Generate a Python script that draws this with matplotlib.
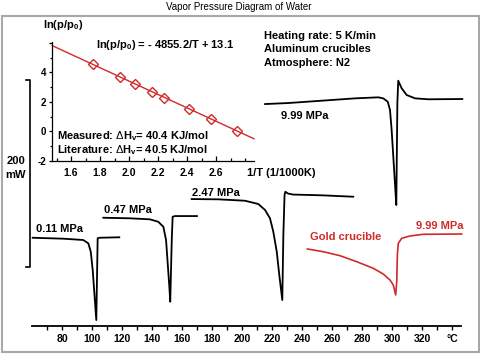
import matplotlib
matplotlib.use('Agg')
import matplotlib.pyplot as plt
from matplotlib.patches import Rectangle

plt.rcParams['font.family'] = ['Liberation Sans', 'DejaVu Sans']
plt.rcParams['mathtext.fontset'] = 'custom'
plt.rcParams['mathtext.rm'] = 'Liberation Sans'
plt.rcParams['mathtext.bf'] = 'Liberation Sans:bold'

# DSC curves: temperature (degC) vs heat flow (mW, arbitrary offset)
t_011 = [60.5, 80.9, 94.2, 97.6, 99.2, 100.5, 101.6, 102.9, 103.4, 103.8, 104.9, 118.2]
q_011 = [31.3, 30.3, 28.9, 25.3, 16.4, -3.2, -27.8, -56.7, -8.5, 30.7, 31.3, 31.8]

t_047 = [107.6, 125.4, 138.7, 144.2, 147.6, 149.4, 150.5, 151.6, 152.2, 153.2, 153.8, 155.4, 170.0]
q_047 = [52.7, 52.1, 51.0, 48.4, 43.1, 28.9, 4.0, -21.1, -37.1, 28.9, 53.8, 54.5, 54.5]

t_247 = [166.5, 184.2, 202.0, 210.9, 215.4, 218.7, 220.9, 223.2, 224.9, 226.9,
         227.6, 228.4, 228.9, 230.7, 234.0, 253.2, 274.2]
q_247 = [72.7, 72.4, 70.9, 67.4, 61.0, 52.1, 37.8, 16.4, -8.6, -35.3,
         34.2, 77.0, 80.5, 78.6, 77.5, 76.7, 75.2]

t_999 = [215.4, 230.9, 253.2, 275.4, 290.9, 294.2, 297.2, 298.7, 299.8, 300.9,
         302.0, 302.9, 303.6, 304.2, 306.5, 309.8, 315.4, 324.2, 346.9]
q_999 = [174.3, 175.4, 177.9, 180.4, 181.5, 180.4, 176.8, 167.9, 146.5, 118.0,
         89.5, 66.3, 175.1, 199.3, 191.1, 184.0, 180.4, 179.4, 179.7]

t_gold = [243.6, 254.2, 265.4, 276.5, 287.6, 294.2, 298.7, 300.9, 302.5, 303.2,
          303.6, 304.2, 306.5, 312.0, 320.9, 346.5]
q_gold = [19.3, 16.4, 12.1, 5.7, -1.4, -7.5, -13.9, -19.3, -29.9, -15.7,
          12.8, 25.3, 30.7, 33.2, 35.0, 35.3]

scale_bar_mw = 200
t_ticks = [80, 100, 120, 140, 160, 180, 200, 220, 240, 260, 280, 300, 320, 340]
t_labels = ['80', '100', '120', '140', '160', '180', '200', '220', '240', '260',
            '280', '300', '320', '°C']
t_minor = [70, 90, 110, 130, 150, 170, 190, 210, 230, 250, 270, 290, 310, 330]

# inset: ln(p/p0) vs 1/T
inv_t = [1.754, 1.938, 2.039, 2.159, 2.243, 2.414, 2.563, 2.747]
ln_p = [4.57, 3.66, 3.20, 2.67, 2.26, 1.51, 0.85, 0.05]
fit_x = [1.471, 2.862]
fit_y = [5.82, -0.51]
inv_ticks = [1.6, 1.8, 2.0, 2.2, 2.4, 2.6]
inv_minor = [1.5, 1.7, 1.9, 2.1, 2.3, 2.5, 2.7, 2.8]
ln_ticks = [-2, 0, 2, 4, 6]
ln_labels = ['-2', '0', '2', '4', '']
ln_minor = [-1, 1, 3, 5]

W, H = 480, 355
RED = '#d02a2a'
fig = plt.figure(figsize=(W / 100, H / 100), dpi=100)


def fx(x):
    return x / W


def fy(y):
    return 1 - y / H


def txt(x, y, s, size=8, **kw):
    kw.setdefault('weight', 'bold')
    kw.setdefault('va', 'center')
    fig.text(fx(x), fy(y), s, fontsize=size, **kw)


# main DSC axes spans the whole figure
ax = fig.add_axes([0, 0, 1, 1])
ax.patch.set_visible(False)
ax.set_xlim(38.7, 358.7)
ax.set_ylim(-94.1, 285.6)
for s in ['left', 'right', 'top']:
    ax.spines[s].set_visible(False)
ax.spines['bottom'].set_position(('data', -63.1))
ax.spines['bottom'].set_bounds(60, 346)
ax.spines['bottom'].set_linewidth(1.3)
ax.set_yticks([])
ax.set_xticks(t_ticks)
ax.set_xticklabels(t_labels, fontweight='bold')
ax.set_xticks(t_minor, minor=True)
ax.tick_params(axis='x', which='both', direction='out', length=3, width=1,
               labelsize=7.5, pad=2.5)

for t, q in [(t_011, q_011), (t_047, q_047), (t_247, q_247), (t_999, q_999)]:
    ax.plot(t, q, color='black', lw=1.3)
ax.plot(t_gold, q_gold, color=RED, lw=1.2)

# scale bar
ax.plot([56, 58.7, 58.7, 56], [scale_bar_mw, scale_bar_mw, 0, 0], color='black', lw=1.2,
        clip_on=False)
txt(16, 161, '200', ha='center')
txt(16, 175, 'mW', ha='center')

txt(36, 229, '0.11 MPa')
txt(104, 210, '0.47 MPa')
txt(192, 192.5, '2.47 MPa')
txt(281, 116, '9.99 MPa')
txt(310.5, 237, 'Gold crucible', color=RED)
txt(416.5, 226, '9.99 MPa', color=RED)

txt(264, 36, 'Heating rate: 5 K/min')
txt(264, 49.5, 'Aluminum crucibles')
txt(264, 63, 'Atmosphere: N2')

txt(239, 7.5, 'Vapor Pressure Diagram of Water', size=7, weight='normal', ha='center')

fig.add_artist(Rectangle((fx(1.5), fy(351.5)), fx(477), (351.5 - 15.5) / H,
                         transform=fig.transFigure, fill=False,
                         edgecolor='#a8a8a8', lw=1.5))

# inset
ins = fig.add_axes([fx(52.3), fy(160.7), (254 - 52.3) / W, (160.7 - 42) / H])
ins.patch.set_visible(False)
ins.set_xlim(1.471, 2.862)
ins.set_ylim(-2, 6.07)
for s in ['right', 'top']:
    ins.spines[s].set_visible(False)
for s in ['left', 'bottom']:
    ins.spines[s].set_linewidth(0.9)
ins.set_xticks(inv_ticks)
ins.set_xticklabels([f'{v:.1f}' for v in inv_ticks], fontweight='bold')
ins.set_xticks(inv_minor, minor=True)
ins.set_yticks(ln_ticks)
ins.set_yticklabels(ln_labels, fontweight='bold')
ins.set_yticks(ln_minor, minor=True)
ins.tick_params(axis='x', which='major', direction='in', length=3.5, width=0.9,
                labelsize=7.5, pad=5)
ins.tick_params(axis='x', which='minor', direction='in', length=2.5, width=0.9)
ins.tick_params(axis='y', which='major', direction='out', length=2.5, width=0.9,
                labelsize=7, pad=2)
ins.tick_params(axis='y', which='minor', direction='out', length=1.8, width=0.9)

ins.plot(fit_x, fit_y, color=RED, lw=1.0, clip_on=False)
ins.plot(inv_t, ln_p, 'D', mfc='none', mec=RED, mew=1.0, ms=5)

txt(43, 25, r'ln(p/p$_\mathbf{0}$)')
txt(95.5, 45, r'ln(p/p$_\mathbf{0}$) = - 4855.2/T + 13.1')
txt(57, 136.5, r'Measured: $\Delta$H$_\mathbf{v}$= 40.4 KJ/mol')
txt(57, 150, r'Literature: $\Delta$H$_\mathbf{v}$= 40.5 KJ/mol')
txt(247, 173, '1/T (1/1000K)')

fig.savefig('out.png', dpi=100)
